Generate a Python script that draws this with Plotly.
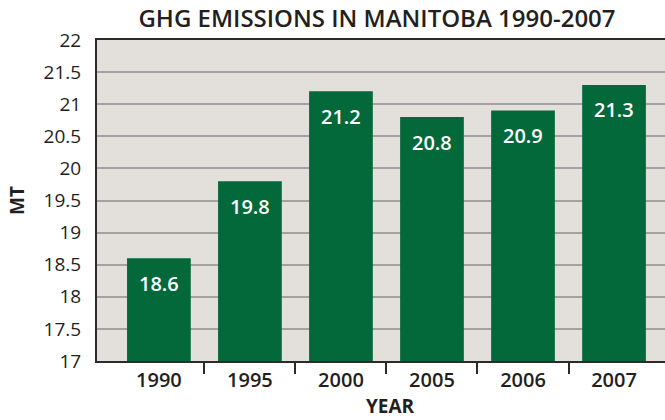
import plotly.graph_objects as go

years = ["1990", "1995", "2000", "2005", "2006", "2007"]
emissions = [18.6, 19.8, 21.2, 20.8, 20.9, 21.3]
y_ticks = [17, 17.5, 18, 18.5, 19, 19.5, 20, 20.5, 21, 21.5, 22]

FONT = "Open Sans"
DARK = "#231f20"
pos = list(range(len(years)))
x_range = [-0.68, 5.56]

fig = go.Figure()
fig.add_trace(go.Bar(
    x=pos, y=emissions, width=0.70,
    marker=dict(color="#03693a", line=dict(width=0)),
    hoverinfo="skip", showlegend=False,
))

for x, v in zip(pos, emissions):
    fig.add_annotation(x=x, y=v, text=f"{v:.1f}", showarrow=False, yshift=-25,
                       font=dict(family=FONT, size=20, color="white", weight=600))

fig.add_annotation(xref="paper", yref="paper", x=(390 - 97) / 568, y=-45 / 321,
                   text="YEAR", showarrow=False, yanchor="middle",
                   font=dict(family=FONT, size=19, color=DARK, weight=700))

fig.update_layout(
    width=665, height=420,
    margin=dict(l=97, r=0, t=40, b=59, autoexpand=False),
    paper_bgcolor="white",
    plot_bgcolor="#e3dfda",
    title=dict(text="GHG EMISSIONS IN MANITOBA 1990-2007",
               x=377 / 665, xref="container", xanchor="center",
               y=1 - 19 / 420, yref="container", yanchor="middle",
               automargin=False,
               font=dict(family=FONT, size=24, color=DARK, weight=600)),
    xaxis=dict(range=x_range, tickmode="array", tickvals=pos, ticktext=years,
               ticks="", showgrid=False, zeroline=False, automargin=False,
               showline=True, linecolor="#2b2b2b", linewidth=2, mirror=True,
               tickfont=dict(family=FONT, size=20, color=DARK, weight=600),
               ticklabelstandoff=0,
               minor=dict(tickmode="array", tickvals=[p + 0.5 for p in pos[:-1]],
                          ticks="outside", ticklen=11, tickwidth=2,
                          tickcolor="#2b2b2b", showgrid=False)),
    yaxis=dict(range=[17, 22], tickvals=y_ticks, automargin=False,
               ticks="", showgrid=True, gridcolor="#a3a1a2", gridwidth=2,
               zeroline=False, showline=True, linecolor="#2b2b2b", linewidth=2,
               tickfont=dict(family=FONT, size=19, color=DARK, weight=500),
               ticklabelstandoff=10,
               title=dict(text="MT", standoff=14,
                          font=dict(family=FONT, size=19, color=DARK, weight=700))),
)

fig.write_html("out.html", config={"displayModeBar": False},
               post_script="document.body.style.margin='0';")
